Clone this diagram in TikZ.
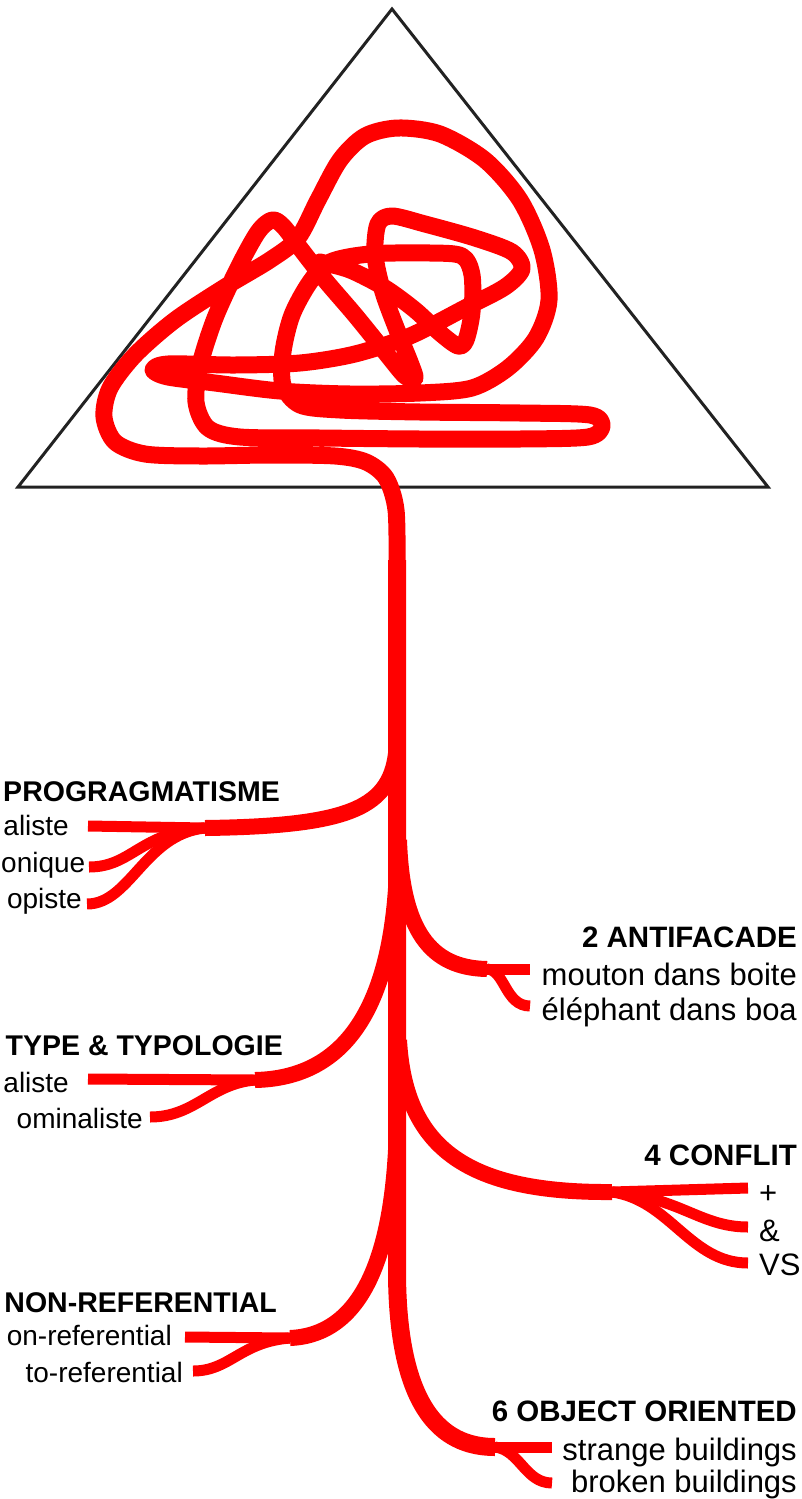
\documentclass[tikz,border=0pt]{standalone}
\usepackage{fontspec}
\setmainfont{Liberation Sans}
\newcommand\hdfont{\fontsize{29.5}{32}\selectfont\bfseries}
\newcommand\lhdfont{\fontsize{28.5}{32}\selectfont\bfseries}
\newcommand\itfont{\fontsize{31}{34}\selectfont}
\newcommand\litfont{\fontsize{28}{32}\selectfont}
\definecolor{scribred}{HTML}{FF0000}
\definecolor{inkgray}{HTML}{222222}
\tikzset{
  trunk/.style={scribred, line width=18pt},
  limb/.style={scribred, line width=16pt},
  twig/.style={scribred, line width=11pt},
  scrib/.style={scribred, line width=17pt, line cap=round, line join=round},
  head/.style={font=\hdfont, inner sep=0pt},
  item/.style={font=\itfont, inner sep=0pt},
  lhead/.style={font=\lhdfont, inner sep=0pt, anchor=base east},
  litem/.style={font=\litfont, inner sep=0pt, anchor=base east},
}
\begin{document}
\begin{tikzpicture}[x=1pt, y=-1pt]
    \useasboundingbox (0,0) rectangle (801,1499);

    % Triangle
    \draw[inkgray, line width=3pt] (392,9) -- (768,487) -- (18,487) -- cycle;

    % Scribble inside the triangle
    \draw[scrib] plot[smooth, tension=0.5] coordinates {
        (397,570) (396,510) (386,478) (366,462) (335,456) (270,455) (200,456)
        (145,454) (115,442) (104,417) (110,388) (135,355) (175,320) (225,287)
        (270,260) (298,238) (318,200) (340,160) (365,136) (398,128) (440,134)
        (485,160) (520,200) (542,250) (549,300) (536,338) (508,368) (472,388)
        (420,393) (350,394) (280,391) (215,383) (168,377) (153,370) (168,364)
        (235,365) (300,363) (355,354) (410,336) (465,308) (505,287) (522,269)
        (512,252) (475,238) (425,224) (392,216) (378,224) (375,255) (383,292)
        (397,330) (410,362) (415,378) (405,376) (385,352) (355,315) (325,280)
        (300,248) (283,226) (272,220) (258,232) (238,268) (215,318) (200,365)
        (196,402) (208,428) (240,437) (320,438) (420,439) (520,439) (588,437)
        (602,426) (590,415) (520,413) (420,412) (340,410) (300,405) (283,385)
        (283,352) (292,315) (310,282) (330,262) (370,254) (430,253) (462,256)
        (472,275) (472,312) (466,340) (458,346) (440,333) (415,310) (385,288)
        (350,270) (320,262)};

    % Split points and branch ends
    \coordinate (top) at (397,560);
    \coordinate (s1) at (205,828);
    \coordinate (s2) at (487,969);
    \coordinate (s3) at (255,1080);
    \coordinate (s4) at (612,1192);
    \coordinate (s5) at (290,1338);
    \coordinate (s6) at (495,1447);
    \coordinate (e1a) at (88,826);
    \coordinate (e1b) at (89,867);
    \coordinate (e1c) at (87,904);
    \coordinate (e2a) at (530,969);
    \coordinate (e2b) at (530,1006);
    \coordinate (e3a) at (88,1079);
    \coordinate (e3b) at (150,1117);
    \coordinate (e4a) at (748,1188);
    \coordinate (e4b) at (748,1227);
    \coordinate (e4c) at (748,1263);
    \coordinate (e5a) at (185,1337);
    \coordinate (e5b) at (193,1371);
    \coordinate (e6a) at (552,1447);
    \coordinate (e6b) at (552,1483);

    % Trunk, bending into branch 6
    \draw[trunk] (top) -- (397,1270) .. controls (397,1420) and (450,1447) .. (s6);

    % Branch 1 (left)
    \draw[limb] (397,740) .. controls (395,805) and (360,826) .. (s1);
    \draw[twig] (s1) -- (e1a);
    \draw[twig] (s1) .. controls (140,832) and (132,867) .. (e1b);
    \draw[twig] (s1) .. controls (145,834) and (130,904) .. (e1c);

    % Branch 2 (right)
    \draw[limb] (399,840) .. controls (402,930) and (430,968) .. (s2);
    \draw[twig] (s2) -- (e2a);
    \draw[twig] (s2) .. controls (505,970) and (505,1006) .. (e2b);

    % Branch 3 (left)
    \draw[limb] (397,870) .. controls (392,1000) and (350,1078) .. (s3);
    \draw[twig] (s3) -- (e3a);
    \draw[twig] (s3) .. controls (210,1084) and (195,1117) .. (e3b);

    % Branch 4 (right)
    \draw[limb] (399,1040) .. controls (405,1150) and (470,1193) .. (s4);
    \draw[twig] (s4) -- (e4a);
    \draw[twig] (s4) .. controls (680,1197) and (700,1227) .. (e4b);
    \draw[twig] (s4) .. controls (670,1200) and (690,1263) .. (e4c);

    % Branch 5 (left)
    \draw[limb] (397,1120) .. controls (395,1260) and (360,1335) .. (s5);
    \draw[twig] (s5) -- (e5a);
    \draw[twig] (s5) .. controls (240,1342) and (230,1371) .. (e5b);

    % Branch 6 (right, end of trunk)
    \draw[twig] (s6) -- (e6a);
    \draw[twig] (s6) .. controls (520,1450) and (525,1483) .. (e6b);

    % Labels, left
    \node[lhead] (h1) at (280,801) {PROGRAGMATISME};
    \node[litem] (i1a) at (69,835) {aliste};
    \node[litem] (i1b) at (85.5,872) {onique};
    \node[litem] (i1c) at (82,908) {opiste};
    \node[lhead] (h3) at (283,1055) {TYPE \& TYPOLOGIE};
    \node[litem] (i3a) at (69,1092) {aliste};
    \node[litem] (i3b) at (143,1128) {ominaliste};
    \node[lhead] (h5) at (277,1312) {NON-REFERENTIAL};
    \node[litem] (i5a) at (172,1345) {on-referential};
    \node[litem] (i5b) at (183,1382) {to-referential};

    % Labels, right
    \node[head, anchor=base east] (h2) at (797,947) {2 ANTIFACADE};
    \node[item, anchor=base east] (i2a) at (797,985) {mouton dans boite};
    \node[item, anchor=base east] (i2b) at (797,1020) {éléphant dans boa};
    \node[head, anchor=base east] (h4) at (797,1165) {4 CONFLIT};
    \node[item, anchor=base west] (i4a) at (759,1203) {+};
    \node[item, anchor=base west] (i4b) at (759,1241) {\&};
    \node[item, anchor=base west] (i4c) at (759,1275) {VS};
    \node[head, anchor=base east] (h6) at (797,1421) {6 OBJECT ORIENTED};
    \node[item, anchor=base east] (i6a) at (797,1460) {strange buildings};
    \node[item, anchor=base east] (i6b) at (797,1492) {broken buildings};
\end{tikzpicture}
\end{document}
